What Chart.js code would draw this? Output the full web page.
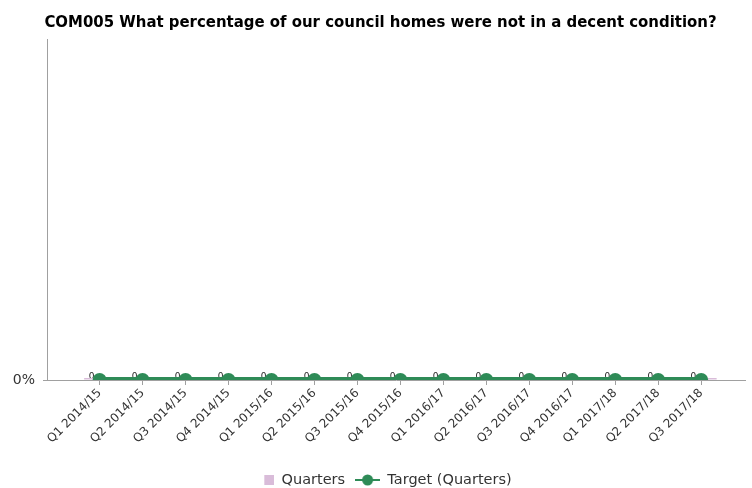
<!DOCTYPE html>
<html>
<head>
<meta charset="utf-8">
<script src="https://cdn.jsdelivr.net/npm/chart.js@4/dist/chart.umd.min.js"></script>
<style>
  html, body { margin: 0; padding: 0; background: #fff; }
  #wrap { width: 752px; height: 488px; }
</style>
</head>
<body>
<div id="wrap"><canvas id="chart" width="752" height="488"></canvas></div>
<script>
// Datos del gráfico
const quarterLabels = [
  'Q1 2014/15', 'Q2 2014/15', 'Q3 2014/15', 'Q4 2014/15',
  'Q1 2015/16', 'Q2 2015/16', 'Q3 2015/16', 'Q4 2015/16',
  'Q1 2016/17', 'Q2 2016/17', 'Q3 2016/17', 'Q4 2016/17',
  'Q1 2017/18', 'Q2 2017/18', 'Q3 2017/18'
];
const quartersValues = [0, 0, 0, 0, 0, 0, 0, 0, 0, 0, 0, 0, 0, 0, 0];
const targetValues = [0, 0, 0, 0, 0, 0, 0, 0, 0, 0, 0, 0, 0, 0, 0];
const yTickLabels = { 0: '0%' };

const titleText = 'COM005 What percentage of our council homes were not in a decent condition?';
const pink = '#d9bcd9';
const green = '#2e8b57';
const axisGray = '#a0a0a0';

// Iconos de leyenda (25px de ancho los dos)
function squareIcon(){
  const c = document.createElement('canvas');
  c.width = 25; c.height = 10;
  const g = c.getContext('2d');
  g.fillStyle = pink;
  g.fillRect(15, 0, 10, 10);
  return c;
}
function lineDotIcon(){
  const c = document.createElement('canvas');
  c.width = 25; c.height = 12;
  const g = c.getContext('2d');
  g.strokeStyle = green; g.lineWidth = 2;
  g.beginPath(); g.moveTo(0, 6); g.lineTo(25, 6); g.stroke();
  g.fillStyle = green;
  g.beginPath(); g.arc(12.5, 6, 5.5, 0, Math.PI * 2); g.fill();
  return c;
}

// Etiquetas "0" junto a cada punto
const zeroLabels = {
  id: 'zeroLabels',
  beforeDatasetsDraw(chart){
    const meta = chart.getDatasetMeta(1);
    const ctx = chart.ctx;
    ctx.save();
    ctx.font = '9px "DejaVu Sans"';
    ctx.fillStyle = '#222';
    ctx.textAlign = 'right';
    ctx.textBaseline = 'bottom';
    meta.data.forEach((pt, i) => {
      ctx.fillText(String(targetValues[i]), pt.x - 5, pt.y + 1);
    });
    ctx.restore();
  }
};

const toXY = arr => arr.map((v, i) => ({ x: i, y: v }));

new Chart(document.getElementById('chart').getContext('2d'), {
  type: 'bar',
  data: {
    datasets: [
      {
        label: 'Quarters',
        data: toXY(quartersValues),
        backgroundColor: pink,
        borderWidth: 0,
        minBarLength: 2,
        clip: 0,
        order: 2
      },
      {
        type: 'line',
        label: 'Target (Quarters)',
        data: toXY(targetValues),
        borderColor: green,
        backgroundColor: green,
        borderWidth: 6,
        pointRadius: 7,
        pointBorderWidth: 0,
        pointStyle: 'circle',
        clip: 0,
        order: 1
      }
    ]
  },
  options: {
    responsive: false,
    animation: false,
    layout: { padding: { left: 11, right: 2, top: 0, bottom: -9.25 } },
    plugins: {
      title: {
        display: true,
        text: titleText,
        color: '#000',
        font: { family: '"DejaVu Sans Condensed", "DejaVu Sans"', size: 16.6, weight: 'bold' },
        padding: { top: 13, bottom: 7 }
      },
      legend: {
        position: 'bottom',
        labels: {
          usePointStyle: true,
          pointStyleWidth: 25,
          color: '#333',
          font: { family: '"DejaVu Sans"', size: 14.5 },
          padding: 10,
          sort: (a, b) => a.datasetIndex - b.datasetIndex,
          generateLabels(chart){
            return [
              { text: 'Quarters', pointStyle: squareIcon(), datasetIndex: 0, fontColor: '#333', lineWidth: 0 },
              { text: 'Target (Quarters)', pointStyle: lineDotIcon(), datasetIndex: 1, fontColor: '#333', lineWidth: 0 }
            ];
          }
        }
      },
      tooltip: { enabled: false }
    },
    scales: {
      x: {
        type: 'linear',
        min: -1.224,
        max: 15.02,
        offset: false,
        grid: { display: true, offset: false, drawOnChartArea: false, drawTicks: true, tickLength: 5, color: axisGray },
        border: { display: true, color: axisGray, width: 1 },
        ticks: {
          stepSize: 1,
          includeBounds: false,
          autoSkip: false,
          minRotation: 45,
          maxRotation: 45,
          color: '#333',
          padding: 1,
          font: { family: '"DejaVu Sans"', size: 12 },
          callback: v => quarterLabels[v]
        },
        afterBuildTicks(scale){
          scale.ticks = scale.ticks.filter(t => Number.isInteger(t.value) && quarterLabels[t.value] !== undefined);
        },
        afterFit(scale){ scale.height = 82.75; }
      },
      y: {
        min: 0,
        max: 1,
        grid: { display: true, drawOnChartArea: false, drawTicks: true, tickLength: 4, color: axisGray },
        border: { display: true, color: axisGray, width: 1 },
        ticks: {
          stepSize: 1,
          color: '#333',
          padding: 8,
          font: { family: '"DejaVu Sans"', size: 14 },
          callback: v => yTickLabels[v] !== undefined ? yTickLabels[v] : null
        },
        afterFit(scale){ scale.width = 36; }
      }
    }
  },
  plugins: [zeroLabels]
});
</script>
</body>
</html>
